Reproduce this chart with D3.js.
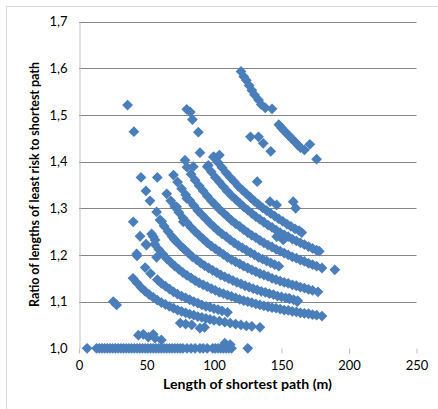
<!DOCTYPE html>
<html>
<head>
<meta charset="utf-8">
<script src="https://cdn.jsdelivr.net/npm/d3@7"></script>
<style>
  body { margin: 0; background: #fff; }
  svg { display: block; font-family: Lato, "Open Sans", sans-serif; }
</style>
</head>
<body>
<div id="chart"></div>
<script>
// axis ticks
const xTicks = [0, 50, 100, 150, 200, 250];
const yTicks = [1.0, 1.1, 1.2, 1.3, 1.4, 1.5, 1.6, 1.7];

// points, grouped by the visible bands
const bandTop = [[120,1.593],[122,1.582],[124,1.574],[126,1.563],[128,1.553],[130,1.543],[133,1.532],[135,1.522],[138,1.515],[143,1.513],[148,1.479],[150,1.472],[152,1.466],[154,1.46],[156,1.454],[158,1.448],[160,1.442],[162,1.436],[164,1.43],[167,1.425],[171,1.437],[176,1.405]];

const upperScatter = [[127,1.453],[133,1.453],[136.5,1.439],[142,1.422],[132,1.357],[141.5,1.314],[146.4,1.307],[158.7,1.314],[160.5,1.3],[148,1.243],[146.4,1.239],[151.3,1.232],[189.5,1.168],[155.6,1.107],[161.7,1.1]];

const leftScatter = [[36,1.521],[40.7,1.464],[79.8,1.512],[82.5,1.506],[84,1.49],[88.4,1.463],[89.6,1.419],[78.5,1.403],[84.7,1.389],[95.8,1.392],[99.5,1.41],[104,1.414],[45.9,1.366],[58,1.366],[49.6,1.337],[52.6,1.316],[57.5,1.292],[61.2,1.272],[40.2,1.271],[72.3,1.303],[45.2,1.24],[53.8,1.245],[56.3,1.232],[49.6,1.223],[70.6,1.233],[77.3,1.214],[42.7,1.202],[57.5,1.195],[55,1.239],[50,1.221],[77.3,1.271],[79.8,1.321],[25.4,1.1],[27.9,1.093]];

const band41 = [[100,1.41],[103,1.398],[106,1.387],[109,1.376],[112,1.366],[115,1.357],[118,1.347],[121,1.339],[124,1.331],[127,1.323],[130,1.315],[133,1.308],[136,1.301],[139,1.295],[142,1.289],[145,1.283],[148,1.277],[151,1.272],[154,1.266],[157,1.261],[160,1.256],[163,1.252],[165,1.248]];

const band37 = [[95,1.389],[98,1.378],[101,1.366],[104,1.356],[107,1.346],[110,1.336],[113,1.327],[116,1.319],[119,1.311],[122,1.303],[125,1.296],[128,1.289],[131,1.282],[134,1.276],[137,1.27],[140,1.264],[143,1.259],[146,1.253],[149,1.248],[152,1.243],[155,1.239],[158,1.234],[161,1.23],[164,1.226],[167,1.222],[170,1.218],[173,1.214],[176,1.21],[178,1.208]];

const band31 = [[80,1.388],[83,1.373],[86,1.36],[89,1.348],[92,1.337],[95,1.326],[98,1.316],[101,1.307],[104,1.298],[107,1.29],[110,1.282],[113,1.274],[116,1.267],[119,1.261],[122,1.254],[125,1.248],[128,1.242],[131,1.237],[134,1.231],[137,1.226],[140,1.221],[143,1.217],[146,1.212],[149,1.208],[152,1.204],[155,1.2],[158,1.196],[161,1.193],[164,1.189],[167,1.186],[170,1.182],[173,1.179],[176,1.176],[180,1.172]];

const band26 = [[70,1.371],[73,1.356],[76,1.342],[79,1.329],[82,1.317],[85,1.306],[88,1.295],[91,1.286],[94,1.277],[97,1.268],[100,1.26],[103,1.252],[106,1.245],[109,1.239],[112,1.232],[115,1.226],[118,1.22],[121,1.215],[124,1.21],[127,1.205],[130,1.2],[133,1.195],[136,1.191],[139,1.187],[142,1.183],[145,1.179],[148,1.176]];

const band21 = [[65,1.331],[68,1.316],[71,1.303],[74,1.291],[77,1.279],[80,1.269],[83,1.259],[86,1.25],[89,1.242],[92,1.234],[95,1.226],[98,1.219],[101,1.213],[104,1.207],[107,1.201],[110,1.195],[113,1.19],[116,1.185],[119,1.181],[122,1.176],[125,1.172],[128,1.168],[131,1.164],[134,1.16],[137,1.157],[140,1.154],[143,1.15],[146,1.147],[149,1.144],[152,1.141],[155,1.139],[158,1.136],[161,1.134],[164,1.131],[167,1.129],[170,1.126],[173,1.124],[177,1.121]];

const band16 = [[60,1.275],[63,1.262],[66,1.25],[69,1.239],[72,1.229],[75,1.22],[78,1.212],[81,1.204],[84,1.196],[87,1.19],[90,1.183],[93,1.177],[96,1.172],[99,1.167],[102,1.162],[105,1.157],[108,1.153],[111,1.149],[114,1.145],[117,1.141],[120,1.138],[123,1.134],[126,1.131],[129,1.128],[132,1.125],[135,1.122],[138,1.12],[141,1.117],[144,1.115],[147,1.112],[150,1.11],[153,1.108],[156,1.106],[159,1.104],[162,1.102]];

const band12 = [[56,1.223],[59,1.212],[62,1.202],[65,1.192],[68,1.184],[71,1.176],[74,1.169],[77,1.162],[80,1.156],[83,1.151],[86,1.145],[89,1.14],[92,1.136],[95,1.132],[98,1.128],[101,1.124],[104,1.12],[107,1.117],[110,1.114],[113,1.111],[116,1.108],[119,1.105],[122,1.102],[125,1.1],[128,1.098],[131,1.095],[134,1.093],[137,1.091],[140,1.089],[143,1.087],[146,1.086],[149,1.084],[152,1.082],[155,1.081],[158,1.079],[161,1.078],[164,1.076],[167,1.075],[170,1.074],[173,1.072],[176,1.071],[180,1.069]];

const band8 = [[43,1.198],[49,1.173],[53,1.16],[58,1.147],[61,1.139],[64,1.133],[67,1.127],[70,1.121],[73,1.116],[76,1.112],[79,1.108],[82,1.104],[85,1.1],[88,1.097],[91,1.093],[94,1.09],[97,1.088],[100,1.085],[103,1.083],[106,1.08],[110,1.077]];

const band6 = [[40,1.15],[43,1.14],[46,1.13],[49,1.122],[52,1.115],[55,1.109],[58,1.103],[61,1.098],[64,1.094],[67,1.09],[70,1.086],[73,1.082],[76,1.079],[79,1.076],[82,1.073],[85,1.071],[88,1.068],[91,1.066],[94,1.064],[97,1.062],[100,1.06],[104,1.058],[108,1.056],[112,1.054],[116,1.052],[120,1.05],[124,1.048],[128,1.047],[134,1.045]];

const band4 = [[75,1.054],[79,1.052],[83.5,1.05],[89.6,1.043],[93,1.045]];

const lowRow = [[44,1.028],[47.6,1.03],[51.4,1.024],[55,1.03],[56.3,1.022],[61,1.018],[108,1.011],[112,1.008]];

const baseRowX = [6,13,15,17,19,21,23,25,27,29,31,33,35,37,39,41,43,45,47,49,51,53,55,57,59,61,63,65,67,69,71,73,75,77,80,83,86,89.6,92,95,99,101,103,105,107,109,111,113,125];

const allPoints = [].concat(
  baseRowX.map(x => [x, 1.0]),
  lowRow, band4, band6, band8, band12, band16, band21, band26, band31,
  band37, band41, leftScatter, upperScatter, bandTop
);

const width = 438, height = 409;
const plotLeft = 79, plotRight = 416.5, plotTop = 21.5, plotBottom = 348.3;

const svg = d3.select("#chart").append("svg")
  .attr("width", width)
  .attr("height", height);

// outer chart frame (runs off the right and bottom edge)
svg.append("rect")
  .attr("x", 6.5).attr("y", 6.5)
  .attr("width", 445).attr("height", 420)
  .attr("fill", "none")
  .attr("stroke", "#d9d9d9");

const x = d3.scaleLinear().domain([0, 250]).range([plotLeft, plotRight]);
const y = d3.scaleLinear().domain([1.0, 1.7]).range([plotBottom, plotTop]);

// horizontal gridlines
svg.append("g")
  .selectAll("line")
  .data(yTicks.slice(1))
  .join("line")
  .attr("x1", plotLeft).attr("x2", plotRight)
  .attr("y1", d => Math.round(y(d)) + 0.5).attr("y2", d => Math.round(y(d)) + 0.5)
  .attr("stroke", "#868686");

// y axis
const yAxis = svg.append("g")
  .attr("transform", "translate(" + (plotLeft + 0.5) + ",0)")
  .call(d3.axisLeft(y).tickValues(yTicks).tickSize(0).tickPadding(12)
    .tickFormat(d => d3.format(".1f")(d).replace(".", ",")));
yAxis.select(".domain").attr("stroke", "#bfbfbf");
yAxis.selectAll("text").attr("font-size", 13).attr("fill", "#000")
  .attr("font-family", "Lato, sans-serif");

// x axis: only the tick marks show
const xAxis = svg.append("g")
  .attr("transform", "translate(0," + (Math.round(plotBottom) + 0.5) + ")")
  .call(d3.axisBottom(x).tickValues(xTicks).tickSize(5).tickPadding(7)
    .tickFormat(d3.format("d")));
xAxis.select(".domain").remove();
xAxis.selectAll(".tick line").attr("stroke", "#bfbfbf");
xAxis.selectAll("text").attr("font-size", 13).attr("fill", "#000")
  .attr("font-family", "Lato, sans-serif");

// markers
const diamond = d3.symbol().type(d3.symbolSquare).size(58);
svg.append("g")
  .selectAll("path")
  .data(allPoints)
  .join("path")
  .attr("d", diamond)
  .attr("transform", d => "translate(" + x(d[0]) + "," + y(d[1]) + ") rotate(45)")
  .attr("fill", "#4a7ebb");

// axis titles
svg.append("text")
  .attr("x", 247.5).attr("y", 389)
  .attr("text-anchor", "middle")
  .attr("font-weight", "bold")
  .attr("font-size", 12.5)
  .attr("textLength", 169)
  .attr("lengthAdjust", "spacingAndGlyphs")
  .text("Length of shortest path (m)");

svg.append("text")
  .attr("transform", "translate(39,184.5) rotate(-90)")
  .attr("text-anchor", "middle")
  .attr("font-weight", "bold")
  .attr("font-size", 12.5)
  .attr("textLength", 245)
  .attr("lengthAdjust", "spacingAndGlyphs")
  .text("Ratio of lengths of least risk to shortest path");
</script>
</body>
</html>
